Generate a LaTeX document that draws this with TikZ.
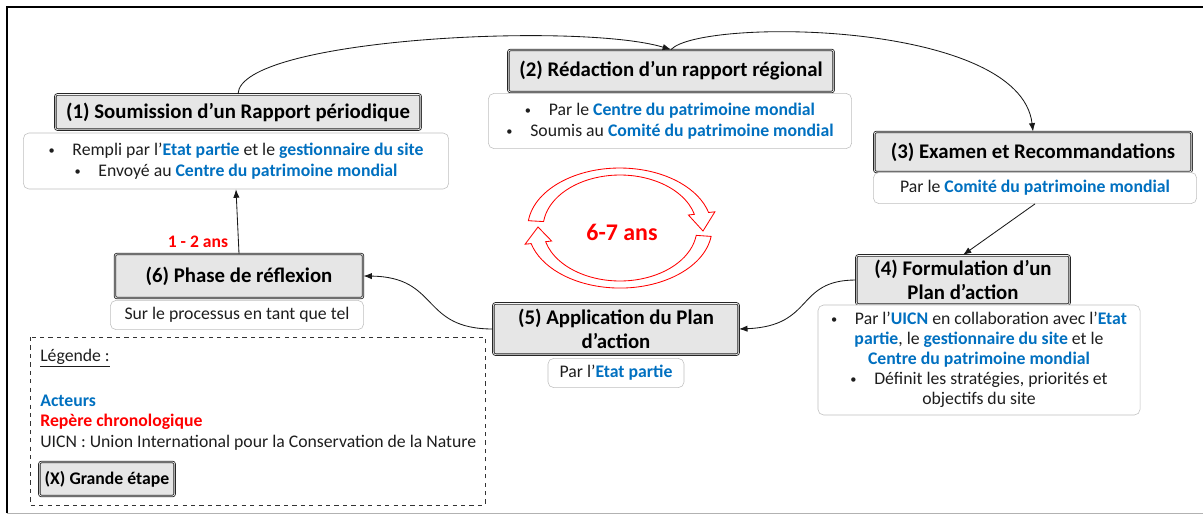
\documentclass[tikz,border=0pt]{standalone}
\usepackage{fontspec}
\setmainfont{Carlito}
\usetikzlibrary{arrows.meta}
\definecolor{acteurblue}{RGB}{0,112,192}
\definecolor{etapegray}{RGB}{230,230,230}
\definecolor{txtgray}{RGB}{30,30,30}
\newcommand{\acteur}[1]{\textcolor{acteurblue}{\textbf{#1}}}
\newcommand{\puce}{\raisebox{0.1ex}{\scalebox{0.7}{•}}\hspace{1em}}
\begin{document}
\begin{tikzpicture}[x=0.025cm,y=-0.025cm,
    etape/.style={draw=black!85,double=etapegray!40,double distance=0.5pt,line width=0.6pt,
        fill=etapegray,rounded corners=1.5pt,inner sep=0pt,align=center,
        font=\fontsize{14.8}{17.5}\selectfont\bfseries},
    detail/.style={draw=black!25,fill=white,rounded corners=4pt,inner sep=0pt,align=center,
        text=txtgray,font=\fontsize{12.6}{14.6}\selectfont},
    fleche/.style={-{Latex[length=6pt,width=4.5pt]},black!90,semithick},
    boucle/.style={draw=red,fill=white,line width=0.6pt,line join=miter}]
    \useasboundingbox (0,0) rectangle (1203,515);
    % Frame
    \draw [line width=1.3pt] (7,513) -- (7,7) -- (1203,7);
    \draw [black!30] (7,513) -- (1203,513);

    % Steps
    \node [etape,minimum width=9.13cm,minimum height=0.88cm] (t1) at (238,112) {(1) Soumission d’un Rapport périodique};
    \node [detail,minimum width=10.63cm,minimum height=1.4cm] (d1) at (236,161)
        {\puce Rempli par l’\acteur{Etat partie} et le \acteur{gestionnaire du site}\\
         \puce Envoyé au \acteur{Centre du patrimoine mondial}};

    \node [etape,minimum width=8.13cm,minimum height=1.05cm] (t2) at (671,71) {(2) Rédaction d’un rapport régional};
    \node [detail,minimum width=9.08cm,minimum height=1.38cm] (d2) at (670,121)
        {\puce Par le \acteur{Centre du patrimoine mondial}\\
         \puce Soumis au \acteur{Comité du patrimoine mondial}};

    \node [etape,minimum width=7.93cm,minimum height=1cm] (t3) at (1033,152) {(3) Examen et Recommandations};
    \node [detail,minimum width=8.08cm,minimum height=0.78cm] (d3) at (1035,188)
        {Par le \acteur{Comité du patrimoine mondial}};

    \node [etape,minimum width=5.33cm,minimum height=1.23cm] (t4) at (963,280) {(4) Formulation d’un\\Plan d’action};
    \node [detail,minimum width=8.05cm,minimum height=2.75cm,font=\fontsize{12.6}{14.2}\selectfont] (d4) at (979,360)
        {\puce Par l’\acteur{UICN} en collaboration avec l’\acteur{Etat}\\
         \acteur{partie}, le \acteur{gestionnaire du site} et le\\
         \acteur{Centre du patrimoine mondial}\\
         \puce Définit les stratégies, priorités et\\
         objectifs du site};

    \node [etape,minimum width=6.13cm,minimum height=1.28cm] (t5) at (616,329) {(5) Application du Plan\\d’action};
    \node [detail,minimum width=3.4cm,minimum height=0.73cm] (d5) at (616,373)
        {Par l’\acteur{Etat partie}};

    \node [etape,minimum width=6.2cm,minimum height=1.1cm] (t6) at (239,276) {(6) Phase de réflexion};
    \node [detail,minimum width=6.33cm,minimum height=0.73cm] (d6) at (237,315)
        {Sur le processus en tant que tel};

    % Connectors
    \draw [fleche] (t1.north) .. controls (240,38) and (580,22) .. (t2.north);
    \draw [fleche] (t2.north) .. controls (700,18) and (1020,20) .. (t3.north);
    \draw [fleche] (d3.south) -- (t4.north);
    \draw [fleche] (t4.west) .. controls (795,280) and (815,326) .. (t5.east);
    \draw [fleche] (t5.west) .. controls (420,329) and (440,277) .. (t6.east);
    \draw [fleche] (t6.north) -- (d1.south);
    \node [text=red,font=\fontsize{12.5}{15}\selectfont\bfseries,anchor=east] (duree1) at (233,242) {1 - 2 ans};

    % Cycle
    \draw [boucle] (528.4,220.7) arc [start angle=187,end angle=345,x radius=92,y radius=60]
        -- (714.9,211.8) -- (703,231) -- (688.4,215) -- (694.4,214.3)
        arc [start angle=345,end angle=187,x radius=77,y radius=53] -- cycle;
    \draw [boucle] (711.1,236.4) arc [start angle=8,end angle=165,x radius=92,y radius=60]
        -- (525.1,244.2) -- (538,227) -- (551.6,241) -- (545.6,241.7)
        arc [start angle=165,end angle=8,x radius=77,y radius=53] -- cycle;
    \node [text=red,font=\fontsize{17}{20}\selectfont\bfseries] (duree2) at (622,232) {6-7 ans};

    % Legend
    \draw [dashed,black!80] (30,337) rectangle (485,505);
    \node [anchor=west,inner sep=0pt,text=txtgray,font=\fontsize{12.6}{14}\selectfont] (leg) at (40,358) {\underline{Légende :}};
    \node [anchor=west,inner sep=0pt,text=acteurblue,font=\fontsize{12.6}{14}\selectfont\bfseries] (leg1) at (40,401) {Acteurs};
    \node [anchor=west,inner sep=0pt,text=red,font=\fontsize{12.6}{14}\selectfont\bfseries] (leg2) at (40,422) {Repère chronologique};
    \node [anchor=west,inner sep=0pt,text=txtgray,font=\fontsize{12.6}{14}\selectfont] (leg3) at (40,443) {UICN : Union International pour la Conservation de la Nature};
    \node [etape,minimum width=3.38cm,minimum height=0.85cm,font=\fontsize{12.6}{14}\selectfont\bfseries] (leg4) at (107,479) {(X) Grande étape};
\end{tikzpicture}
\end{document}
